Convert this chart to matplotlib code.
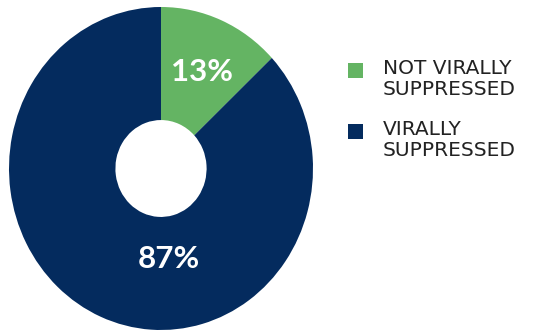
import matplotlib.pyplot as plt
from matplotlib.patches import Rectangle

categories = ["NOT VIRALLY\nSUPPRESSED", "VIRALLY\nSUPPRESSED"]
shares = [13, 87]
colors = ["#64b463", "#042b5e"]

fig = plt.figure(figsize=(5.56, 3.30), dpi=100)
ax = fig.add_axes([9 / 556, 0, 304 / 556, 323 / 330])

wedges, _ = ax.pie(shares, colors=colors, startangle=90, counterclock=False,
                   radius=1.0, wedgeprops=dict(width=0.70, linewidth=0))
ax.set_aspect("auto")
ax.set_xlim(-1, 1)
ax.set_ylim(-1, 1)

# percentage labels inside the ring
label_pos = [(0.27, 0.60), (0.05, -0.56)]
for (x, y), s in zip(label_pos, shares):
    ax.text(x, y, f"{s}%", color="white", fontsize=22.5, fontweight="bold",
            family="Lato", ha="center", va="center")

# legend on the right
for i, (lab, c) in enumerate(zip(categories, colors)):
    top = 63 + i * 61
    fig.patches.append(Rectangle((348 / 556, 1 - (top + 15) / 330), 15 / 556, 15 / 330,
                                 transform=fig.transFigure, color=c, linewidth=0))
    fig.text(383 / 556, 1 - (top - 4) / 330, lab, fontsize=14.5, family="DejaVu Sans",
             color="#222222", va="top", ha="left", linespacing=1.12)

fig.savefig("out.png", dpi=100)
